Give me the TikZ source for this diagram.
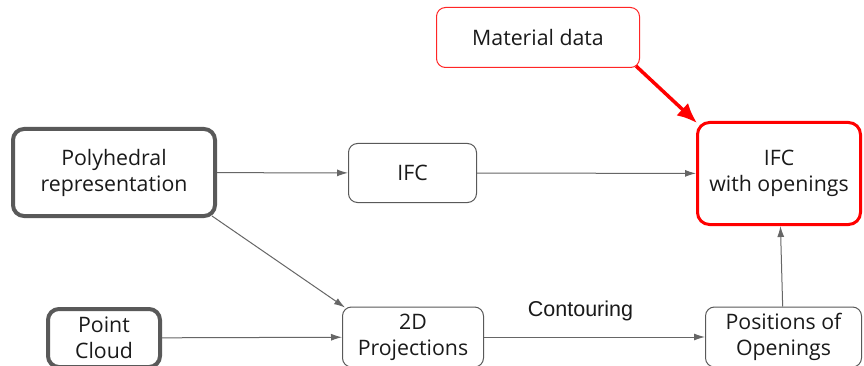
\documentclass[tikz,border=0pt]{standalone}
\usepackage{fontspec}
\setmainfont{Open Sans}
\newfontfamily\labelfont{Liberation Sans}
\usepackage{tikz}
\usetikzlibrary{arrows.meta}
\definecolor{boxgray}{HTML}{595959}
\definecolor{linegray}{HTML}{666666}
\definecolor{txt}{HTML}{1A1A1A}
\tikzset{
	block/.style    = {draw=boxgray, line width=1pt, rectangle, rounded corners=9pt,
		align=center, text=txt, font=\fontsize{21.3}{26}\selectfont},
	source/.style   = {block, line width=4pt, rounded corners=11pt}, % Input data
	target/.style   = {block, draw=red, line width=3pt, rounded corners=12pt}, % Output
	extra/.style    = {block, draw=red!85, line width=1pt},
	link/.style     = {draw=linegray, line width=1pt, -{Latex[length=11pt,width=7pt]}},
	redlink/.style  = {draw=red, line width=3.5pt, -{Latex[length=20pt,width=17pt]}}
}

\begin{document}
\begin{tikzpicture}[x=1pt, y=-1pt, inner sep=0pt]
	\useasboundingbox (0,0) rectangle (864,366);
	\fill[white] (0,0) rectangle (864,366);
	\draw
	node at (114,172.5)[source, minimum width=202pt, minimum height=87pt] (poly) {Polyhedral\\representation}
	node at (412.5,173)[block, minimum width=128pt, minimum height=59pt] (ifc) {IFC}
	node at (538,37.5)[extra, minimum width=203pt, minimum height=60pt] (material) {Material data}
	node at (779,173.5)[target, minimum width=163pt, minimum height=102pt] (ifcopen) {IFC\\with openings}
	node at (104,338)[source, minimum width=112pt, minimum height=58pt] (cloud) {Point\\Cloud}
	node at (413,337)[block, minimum width=141pt, minimum height=60pt] (proj) {2D\\Projections}
	node at (783.5,337)[block, minimum width=156pt, minimum height=60pt] (positions) {Positions of\\Openings};

	\draw[link] (poly) -- (ifc);
	\draw[link] (ifc) -- (ifcopen);
	\draw[link] ([xshift=-5pt,yshift=2pt]poly.south east) -- ([xshift=3pt,yshift=-1pt]proj.north west);
	\draw[link] (cloud) -- (proj);
	\draw[link] (proj) -- node[above=16pt, xshift=-14pt, text=txt, font=\labelfont\fontsize{21.5}{24}\selectfont] {Contouring} (positions);
	\draw[link] (positions) -- (ifcopen);
	\draw[redlink] ([xshift=-4pt,yshift=2pt]material.south east) -- ([xshift=1pt,yshift=-2pt]ifcopen.north west);
\end{tikzpicture}
\end{document}
